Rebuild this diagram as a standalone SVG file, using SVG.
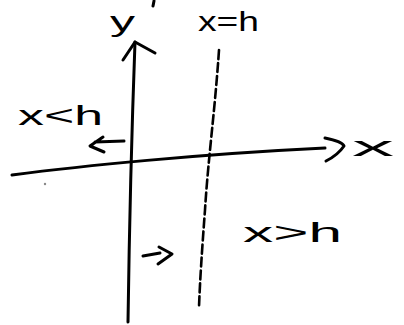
<svg xmlns="http://www.w3.org/2000/svg" width="404" height="325" viewBox="0 0 404 325">
<style>
.s{fill:none;stroke:#000;stroke-width:3;stroke-linecap:round;stroke-linejoin:round}
.d{fill:none;stroke:#000;stroke-width:2.6;stroke-linecap:round;stroke-dasharray:9 4}
.t{font-family:"Liberation Sans",Arial,sans-serif;fill:#000;font-size:28px}
</style>
<rect width="404" height="325" fill="#fff"/>
<g id="connectors">
<path id="y-axis" class="s" d="M128,322 C129,250 131,150 135,42"/>
<path id="y-arrowhead" class="s" d="M123,60 L135,42 L155,53"/>
<path id="x-axis" class="s" d="M12,175 C80,166 200,154 325,148"/>
<path id="x-arrowhead" class="s" d="M325,138 C335,140 343,143 344,146 C340,152 332,158 326,161"/>
<path id="x-eq-h" class="d" d="M219,50 C215,110 208,160 205,210 C202,250 200,280 199,307"/>
<path id="left-arrow" class="s" d="M124,141 L95,142 M103,137 L90,146 L104,152"/>
<path id="right-arrow" class="s" d="M143,256 L160,253 M159,247 L172,254 L158,264"/>
<path id="tick" class="s" stroke-width="1.5" d="M154,1 L153,6"/>
<circle cx="45" cy="184" r="1.2" fill="#888"/>
</g>
<g id="label-y"><text class="t" x="110" y="31" textLength="25" lengthAdjust="spacingAndGlyphs">y</text></g>
<g id="label-xeqh"><text class="t" x="198" y="31" font-size="24" textLength="61" lengthAdjust="spacingAndGlyphs">x=h</text></g>
<g id="label-xlth"><text class="t" x="18" y="125" textLength="85" lengthAdjust="spacingAndGlyphs">x&lt;h</text></g>
<g id="label-x"><text class="t" x="352" y="156" font-size="30" textLength="42" lengthAdjust="spacingAndGlyphs">x</text></g>
<g id="label-xgth"><text class="t" x="243" y="242" font-size="36" textLength="99" lengthAdjust="spacingAndGlyphs">x&gt;h</text></g>
</svg>
